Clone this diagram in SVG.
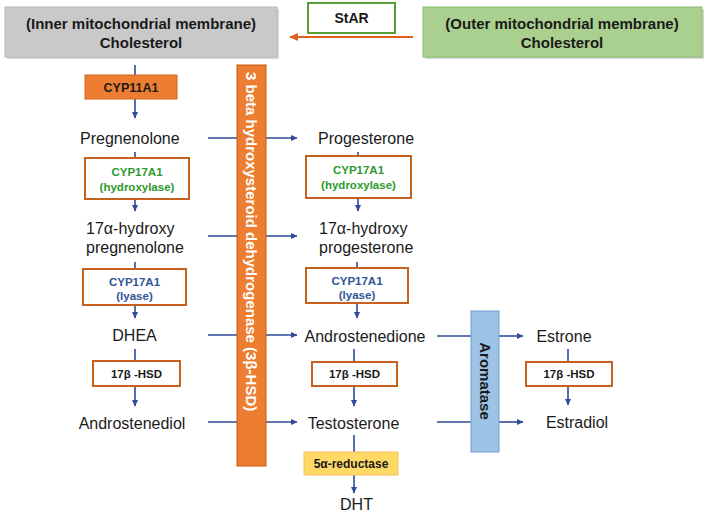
<svg xmlns="http://www.w3.org/2000/svg" width="711" height="517" viewBox="0 0 711 517">
<style>
text{font-family:"Liberation Sans",Arial,sans-serif;}
.lbl{font-size:16px;fill:#1a1a1a;}
.hdr{font-size:15px;font-weight:bold;fill:#1a1a1a;text-anchor:middle;}
.enz{fill:#fff;stroke:#c8611f;stroke-width:2;}
.et{font-size:11.5px;font-weight:bold;text-anchor:middle;}
.g{fill:#2e9a2e;}
.b{fill:#2f5597;}
.k{fill:#1a1a1a;}
.con{stroke:#2f4a9a;stroke-width:1.6;fill:none;}
.arr{marker-end:url(#ah);}
.shadow{fill:#d6d6d6;}
</style>
<defs>
<marker id="ah" markerWidth="7" markerHeight="7" refX="6" refY="3.5" orient="auto" markerUnits="userSpaceOnUse">
<path d="M0,0.5 L6.5,3.5 L0,6.5 z" fill="#2f4a9a"/>
</marker>
<marker id="oh" markerWidth="10" markerHeight="10" refX="8" refY="4" orient="auto" markerUnits="userSpaceOnUse">
<path d="M0,0 L9,4 L0,8 z" fill="#e0601e"/>
</marker>
</defs>

<g id="connectors">
<line class="con arr" x1="208" y1="138" x2="297" y2="138"/>
<line class="con arr" x1="208" y1="236" x2="297" y2="236"/>
<line class="con arr" x1="208" y1="335" x2="297" y2="335"/>
<line class="con arr" x1="208" y1="422" x2="297" y2="422"/>
<line class="con" x1="437" y1="336" x2="472" y2="336"/>
<line class="con" x1="437" y1="422" x2="472" y2="422"/>
<line class="con arr" x1="499" y1="336" x2="523" y2="336"/>
<line class="con arr" x1="499" y1="422" x2="523" y2="422"/>
<line class="con arr" x1="135" y1="65" x2="135" y2="118"/>
<line class="con arr" x1="135" y1="152" x2="135" y2="211"/>
<line class="con arr" x1="135" y1="262" x2="135" y2="318"/>
<line class="con arr" x1="135" y1="349" x2="135" y2="406"/>
<line class="con arr" x1="358" y1="152" x2="358" y2="211"/>
<line class="con arr" x1="357" y1="262" x2="357" y2="318"/>
<line class="con arr" x1="354" y1="349" x2="354" y2="406"/>
<line class="con arr" x1="354" y1="435" x2="354" y2="493"/>
<line class="con arr" x1="568" y1="349" x2="568" y2="405"/>
<line x1="413" y1="37" x2="290" y2="37" stroke="#e0601e" stroke-width="2" marker-end="url(#oh)"/>
</g>

<g id="inner-cholesterol">
<rect class="shadow" x="7" y="9" width="272" height="50"/>
<rect x="5" y="7" width="272" height="50" fill="#c9c9c9" stroke="#b8b8b8"/>
<text class="hdr" x="141" y="29">(Inner mitochondrial membrane)</text>
<text class="hdr" x="141" y="48">Cholesterol</text>
</g>

<g id="star">
<rect x="308" y="3" width="87" height="30" fill="#fff" stroke="#5a9e3a" stroke-width="2"/>
<text x="351.5" y="23" font-size="14" font-weight="bold" fill="#1a1a1a" text-anchor="middle">StAR</text>
</g>

<g id="outer-cholesterol">
<rect class="shadow" x="425" y="9" width="279" height="50"/>
<rect x="423" y="7" width="279" height="50" fill="#a9d08e" stroke="#8cbc70"/>
<text class="hdr" x="562" y="29">(Outer mitochondrial membrane)</text>
<text class="hdr" x="562" y="48">Cholesterol</text>
</g>

<g id="cyp11a1">
<rect x="85" y="75" width="92" height="24" fill="#ed7d31" stroke="#d0641e"/>
<text x="131" y="91.5" font-size="12.5" font-weight="bold" fill="#1a1a1a" text-anchor="middle">CYP11A1</text>
</g>

<g id="hsd3b">
<rect x="237" y="65" width="29" height="401" fill="#ed7d31" stroke="#c55a11"/>
<text transform="translate(251.5,72) rotate(90)" x="0" y="5.3" font-size="15" font-weight="bold" fill="#fff">3 beta hydroxysteroid dehydrogenase (3β-HSD)</text>
</g>

<g id="pregnenolone"><text class="lbl" x="80" y="143.5">Pregnenolone</text></g>
<g id="progesterone"><text class="lbl" x="318" y="143.5">Progesterone</text></g>

<g id="cyp17a1-hyd-left">
<rect class="enz" x="85" y="158" width="104" height="41"/>
<text class="et g" x="137" y="175.5">CYP17A1</text>
<text class="et g" x="137" y="190.5">(hydroxylase)</text>
</g>
<g id="cyp17a1-hyd-right">
<rect class="enz" x="306" y="156" width="105" height="42"/>
<text class="et g" x="358.5" y="174">CYP17A1</text>
<text class="et g" x="358.5" y="189">(hydroxylase)</text>
</g>

<g id="oh-pregnenolone">
<text class="lbl" x="86" y="233.5">17α-hydroxy</text>
<text class="lbl" x="86" y="253">pregnenolone</text>
</g>
<g id="oh-progesterone">
<text class="lbl" x="319" y="233.5">17α-hydroxy</text>
<text class="lbl" x="319" y="253">progesterone</text>
</g>

<g id="cyp17a1-lyase-left">
<rect class="enz" x="83" y="269" width="103" height="36"/>
<text class="et b" x="134.5" y="285.5">CYP17A1</text>
<text class="et b" x="134.5" y="300">(lyase)</text>
</g>
<g id="cyp17a1-lyase-right">
<rect class="enz" x="306" y="268" width="102" height="35"/>
<text class="et b" x="357" y="284.5">CYP17A1</text>
<text class="et b" x="357" y="299">(lyase)</text>
</g>

<g id="dhea"><text class="lbl" x="134.5" y="341" text-anchor="middle">DHEA</text></g>
<g id="androstenedione"><text class="lbl" x="365" y="341.5" text-anchor="middle">Androstenedione</text></g>

<g id="hsd17b-left">
<rect class="enz" x="93" y="361" width="87" height="25"/>
<text class="et k" x="136.5" y="377.5">17β -HSD</text>
</g>
<g id="hsd17b-mid">
<rect class="enz" x="312" y="362" width="85" height="24"/>
<text class="et k" x="354.5" y="378">17β -HSD</text>
</g>

<g id="aromatase">
<rect x="471" y="311" width="28" height="141" fill="#9dc3e6" stroke="#6f9fcf"/>
<text transform="translate(485,381) rotate(90)" x="0" y="5.3" font-size="15" font-weight="bold" fill="#1a1a1a" text-anchor="middle">Aromatase</text>
</g>

<g id="estrone"><text class="lbl" x="564" y="341.5" text-anchor="middle">Estrone</text></g>
<g id="hsd17b-right">
<rect class="enz" x="526" y="362" width="86" height="24"/>
<text class="et k" x="569" y="378">17β -HSD</text>
</g>
<g id="estradiol"><text class="lbl" x="577" y="428" text-anchor="middle">Estradiol</text></g>

<g id="androstenediol"><text class="lbl" x="132" y="428.5" text-anchor="middle">Androstenediol</text></g>
<g id="testosterone"><text class="lbl" x="353.5" y="428.5" text-anchor="middle">Testosterone</text></g>

<g id="reductase">
<rect x="304" y="452" width="94" height="23" fill="#ffd966" stroke="#f2c15c"/>
<text x="351" y="467.5" font-size="12" font-weight="bold" fill="#1a1a1a" text-anchor="middle">5α-reductase</text>
</g>
<g id="dht"><text class="lbl" x="356.5" y="510" text-anchor="middle">DHT</text></g>
</svg>
